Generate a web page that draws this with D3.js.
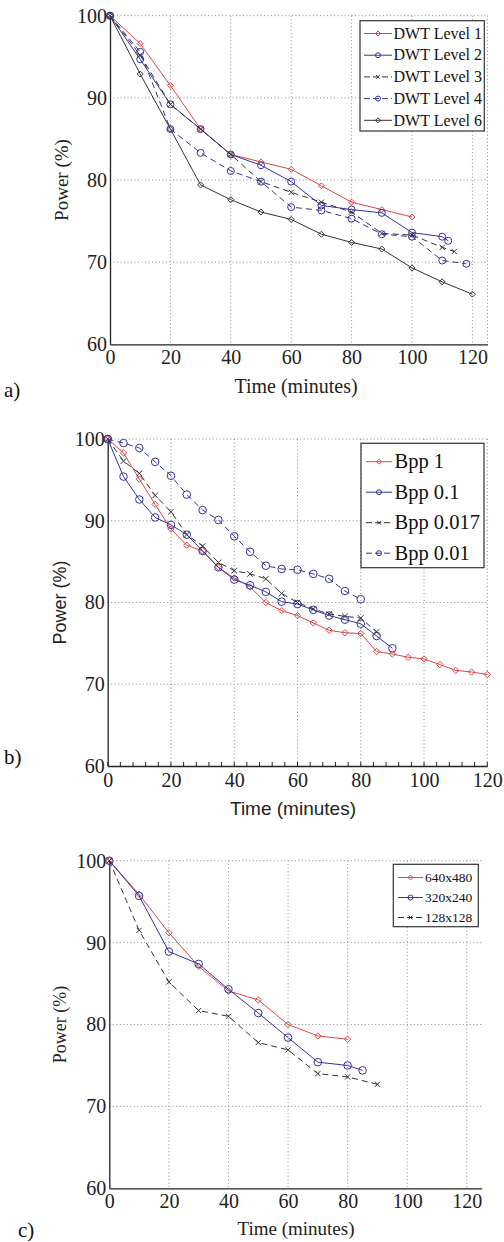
<!DOCTYPE html>
<html>
<head>
<meta charset="utf-8">
<script src="https://cdn.jsdelivr.net/npm/d3@7"></script>
<style>
  html, body { margin: 0; padding: 0; background: #fff; }
  svg { display: block; }
</style>
</head>
<body>
<svg id="chart" width="504" height="1242"></svg>
<script>
// ── Data: panel a (DWT levels) ─────────────────────────
const dwt1T = [0, 10, 20, 30, 40, 50, 60, 70, 80, 90, 100];
const dwt1 = [100, 96.6, 91.5, 86.2, 83.1, 82.2, 81.3, 79.3, 77.3, 76.4, 75.5];
const dwt2T = [0, 10, 20, 30, 40, 50, 60, 70, 80, 90, 100, 110, 112];
const dwt2 = [100, 94.7, 89.2, 86.2, 83.1, 81.8, 79.8, 76.9, 76.4, 76.0, 73.6, 73.1, 72.6];
const dwt3T = [0, 10, 20, 30, 40, 50, 60, 70, 80, 90, 100, 110, 114];
const dwt3 = [100, 95.2, 89.2, 86.2, 83.1, 79.8, 78.5, 77.3, 76.1, 73.5, 73.3, 71.8, 71.3];
const dwt4T = [0, 10, 20, 30, 40, 50, 60, 70, 80, 90, 100, 110, 118];
const dwt4 = [100, 95.6, 86.2, 83.3, 81.1, 79.8, 76.7, 76.3, 75.3, 73.4, 73.1, 70.2, 69.8];
const dwt6T = [0, 10, 20, 30, 40, 50, 60, 70, 80, 90, 100, 110, 120];
const dwt6 = [100, 92.9, 86.2, 79.4, 77.6, 76.1, 75.2, 73.4, 72.4, 71.6, 69.3, 67.6, 66.1];

// ── Data: panel b (bits per pixel) ─────────────────────
const bpp1T = d3.range(0, 121, 5);
const bpp1 = [100, 98.3, 95.1, 92.0, 89.0, 87.0, 86.3, 84.3, 83.0, 81.9, 80.0, 79.0, 78.4,
  77.5, 76.6, 76.3, 76.2, 74.0, 73.7, 73.3, 73.1, 72.4, 71.7, 71.5, 71.2];
const bpp01T = d3.range(0, 91, 5);
const bpp01 = [100, 95.4, 92.6, 90.4, 89.5, 88.3, 86.3, 84.3, 82.8, 82.1, 81.3, 80.1, 79.8,
  79.1, 78.4, 77.9, 77.4, 75.9, 74.4];
const bpp0017T = d3.range(0, 86, 5);
const bpp0017 = [100, 97.3, 95.8, 93.1, 91.1, 88.3, 86.9, 84.9, 83.9, 83.5, 82.9, 81.1, 80.0,
  79.2, 78.6, 78.3, 78.1, 76.4];
const bpp001T = d3.range(0, 81, 5);
const bpp001 = [100, 99.5, 98.9, 97.2, 95.5, 93.2, 91.3, 90.1, 88.1, 86.2, 84.5, 84.1, 84.0,
  83.5, 82.9, 81.4, 80.4];

// ── Data: panel c (resolution) ─────────────────────────
const res640T = [0, 10, 20, 30, 40, 50, 60, 70, 80];
const res640 = [100, 95.9, 91.2, 87.1, 84.1, 83.0, 80.0, 78.6, 78.2];
const res320T = [0, 10, 20, 30, 40, 50, 60, 70, 80, 85];
const res320 = [100, 95.7, 88.9, 87.4, 84.3, 81.4, 78.4, 75.4, 75.0, 74.4];
const res128T = [0, 10, 20, 30, 40, 50, 60, 70, 80, 90];
const res128 = [100, 91.5, 85.2, 81.7, 81.0, 77.8, 76.9, 74.0, 73.6, 72.7];

const xTicks = [0, 20, 40, 60, 80, 100, 120];
const yTicks = [60, 70, 80, 90, 100];

const RED = '#d8474a';
const BLUE = '#34349e';
const DARK = '#333';
const SERIF = "'Liberation Serif', 'DejaVu Serif', serif";
const SANS = "'Liberation Sans', Arial, sans-serif";

const svg = d3.select('#chart');

function zip(xs, ys) { return xs.map((x, i) => ({ t: x, v: ys[i] })); }

function drawMarker(g, type, x, y, color, size) {
  if (type === 'o') {
    g.append('circle').attr('cx', x).attr('cy', y).attr('r', size)
      .attr('fill', 'none').attr('stroke', color).attr('stroke-width', 1);
  } else if (type === 'd') {
    const s = size;
    g.append('path').attr('d', `M${x},${y - s}L${x + s},${y}L${x},${y + s}L${x - s},${y}Z`)
      .attr('fill', 'none').attr('stroke', color).attr('stroke-width', 1);
  } else if (type === 'x') {
    const s = size * 0.75;
    g.append('path').attr('d', `M${x - s},${y - s}L${x + s},${y + s}M${x - s},${y + s}L${x + s},${y - s}`)
      .attr('stroke', color).attr('stroke-width', 1);
  }
}

function drawPanel(p) {
  const g = svg.append('g');
  const x = d3.scaleLinear().domain([0, p.xMax]).range([p.left, p.right]);
  const y = d3.scaleLinear().domain([60, 100]).range([p.bottom, p.top]);

  // grid
  const grid = g.append('g').attr('stroke', '#8a8a8a').attr('stroke-width', 1)
    .attr('stroke-dasharray', '1,2.5');
  xTicks.filter(t => t > 0).forEach(t => {
    grid.append('line').attr('x1', x(t)).attr('x2', x(t)).attr('y1', p.top).attr('y2', p.bottom);
  });
  if (p.rightGrid) {
    grid.append('line').attr('x1', p.right).attr('x2', p.right).attr('y1', p.top).attr('y2', p.bottom);
  }
  yTicks.filter(t => t > 60).forEach(t => {
    grid.append('line').attr('x1', p.left).attr('x2', p.right).attr('y1', y(t)).attr('y2', y(t));
  });

  // axes
  const xAxis = g.append('g').attr('transform', `translate(0,${p.bottom})`)
    .call(d3.axisBottom(x).tickValues(xTicks).tickSize(0).tickPadding(p.xPad));
  xAxis.select('.domain').attr('stroke', '#222').attr('stroke-width', 1.3);
  xAxis.selectAll('text').attr('font-family', SERIF).attr('font-size', 20).attr('fill', '#222');

  const yAxis = g.append('g').attr('transform', `translate(${p.left},0)`)
    .call(d3.axisLeft(y).tickValues(yTicks).tickSize(0).tickPadding(3));
  yAxis.select('.domain').attr('stroke', '#222').attr('stroke-width', 1.3);
  yAxis.selectAll('text').attr('font-family', SERIF).attr('font-size', 20).attr('fill', '#222');

  if (p.minorTicks) {
    const mt = g.append('g').attr('stroke', '#222').attr('stroke-width', 1);
    d3.range(0, p.xMax + 0.1, 4).forEach(t => {
      mt.append('line').attr('x1', x(t)).attr('x2', x(t)).attr('y1', p.bottom).attr('y2', p.bottom - 4);
    });
  }

  // series
  const line = d3.line().x(d => x(d.t)).y(d => y(d.v));
  p.series.forEach(s => {
    const data = zip(s.t, s.v);
    g.append('path').datum(data).attr('d', line).attr('fill', 'none')
      .attr('stroke', s.color).attr('stroke-width', 1)
      .attr('stroke-dasharray', s.dash ? '6,4' : null);
    const mg = g.append('g');
    data.forEach(d => drawMarker(mg, s.marker, x(d.t), y(d.v), s.color, s.msize));
  });

  // axis labels
  g.append('text').attr('x', p.xLabelX).attr('y', p.xLabelY).attr('text-anchor', 'middle')
    .attr('font-family', p.labelFont).attr('font-size', p.labelSize).attr('fill', '#222')
    .text('Time (minutes)');
  g.append('text').attr('transform', `translate(${p.yLabelX},${(p.top + p.bottom) / 2}) rotate(-90)`)
    .attr('text-anchor', 'middle').attr('font-family', p.labelFont).attr('font-size', p.labelSize - 1)
    .attr('fill', '#222').text('Power (%)');

  g.append('text').attr('x', p.tagX).attr('y', p.tagY).attr('font-family', SERIF)
    .attr('font-size', 21).attr('fill', '#111').text(p.tag);

  // legend
  const L = p.legend;
  const lg = g.append('g');
  lg.append('rect').attr('x', L.x).attr('y', L.y).attr('width', L.w).attr('height', L.h)
    .attr('fill', '#fff').attr('stroke', '#333').attr('stroke-width', 1.2);
  p.series.forEach((s, i) => {
    const cy = L.y0 + i * L.dy;
    lg.append('line').attr('x1', L.lx1).attr('x2', L.lx2).attr('y1', cy).attr('y2', cy)
      .attr('stroke', s.color).attr('stroke-width', 1)
      .attr('stroke-dasharray', s.dash ? '6,3' : null);
    drawMarker(lg, s.marker, (L.lx1 + L.lx2) / 2, cy, s.color, L.msize);
    lg.append('text').attr('x', L.tx).attr('y', cy).attr('dy', '0.33em')
      .attr('font-family', SERIF).attr('font-size', L.size).attr('fill', '#111').text(s.name);
  });
}

// ── Panel a ────────────────────────────────────────────
drawPanel({
  left: 110, right: 487.5, top: 15.7, bottom: 344.3, xMax: 125, rightGrid: true,
  xPad: 6, labelFont: SERIF, labelSize: 20, xLabelX: 296, xLabelY: 393, yLabelX: 68,
  tag: 'a)', tagX: 4, tagY: 397,
  series: [
    { name: 'DWT Level 1', t: dwt1T, v: dwt1, color: RED, marker: 'd', msize: 3, dash: false },
    { name: 'DWT Level 2', t: dwt2T, v: dwt2, color: BLUE, marker: 'o', msize: 3.5, dash: false },
    { name: 'DWT Level 3', t: dwt3T, v: dwt3, color: DARK, marker: 'x', msize: 3.5, dash: true },
    { name: 'DWT Level 4', t: dwt4T, v: dwt4, color: BLUE, marker: 'o', msize: 3.5, dash: true },
    { name: 'DWT Level 6', t: dwt6T, v: dwt6, color: DARK, marker: 'd', msize: 3, dash: false }
  ],
  legend: { x: 360, y: 20.7, w: 124.3, h: 110.3, y0: 33.5, dy: 21.7, lx1: 364, lx2: 392,
    tx: 393.5, size: 16, msize: 2.5 }
});

// ── Panel b ────────────────────────────────────────────
drawPanel({
  left: 107.7, right: 487.3, top: 439, bottom: 766, xMax: 120, minorTicks: true,
  xPad: 7, labelFont: SANS, labelSize: 19, xLabelX: 293, xLabelY: 815, yLabelX: 66,
  tag: 'b)', tagX: 4, tagY: 764,
  series: [
    { name: 'Bpp 1', t: bpp1T, v: bpp1, color: RED, marker: 'd', msize: 3.2, dash: false },
    { name: 'Bpp 0.1', t: bpp01T, v: bpp01, color: BLUE, marker: 'o', msize: 3.8, dash: false },
    { name: 'Bpp 0.017', t: bpp0017T, v: bpp0017, color: DARK, marker: 'x', msize: 3.8, dash: true },
    { name: 'Bpp 0.01', t: bpp001T, v: bpp001, color: BLUE, marker: 'o', msize: 3.8, dash: true }
  ],
  legend: { x: 361, y: 443.3, w: 123, h: 124.4, y0: 461.7, dy: 30.5, lx1: 366, lx2: 392,
    tx: 394.5, size: 20.5, msize: 2.5 }
});

// ── Panel c ────────────────────────────────────────────
drawPanel({
  left: 109.3, right: 481.7, top: 860.7, bottom: 1188.3, xMax: 125,
  xPad: 6, labelFont: SERIF, labelSize: 19, xLabelX: 296, xLabelY: 1235, yLabelX: 66,
  tag: 'c)', tagX: 18, tagY: 1237,
  series: [
    { name: '640x480', t: res640T, v: res640, color: RED, marker: 'd', msize: 3.2, dash: false },
    { name: '320x240', t: res320T, v: res320, color: BLUE, marker: 'o', msize: 3.8, dash: false },
    { name: '128x128', t: res128T, v: res128, color: DARK, marker: 'x', msize: 3.5, dash: true }
  ],
  legend: { x: 393.3, y: 864.3, w: 85, h: 62.4, y0: 877.5, dy: 20, lx1: 398, lx2: 423,
    tx: 425, size: 13.5, msize: 2.5 }
});
</script>
</body>
</html>
